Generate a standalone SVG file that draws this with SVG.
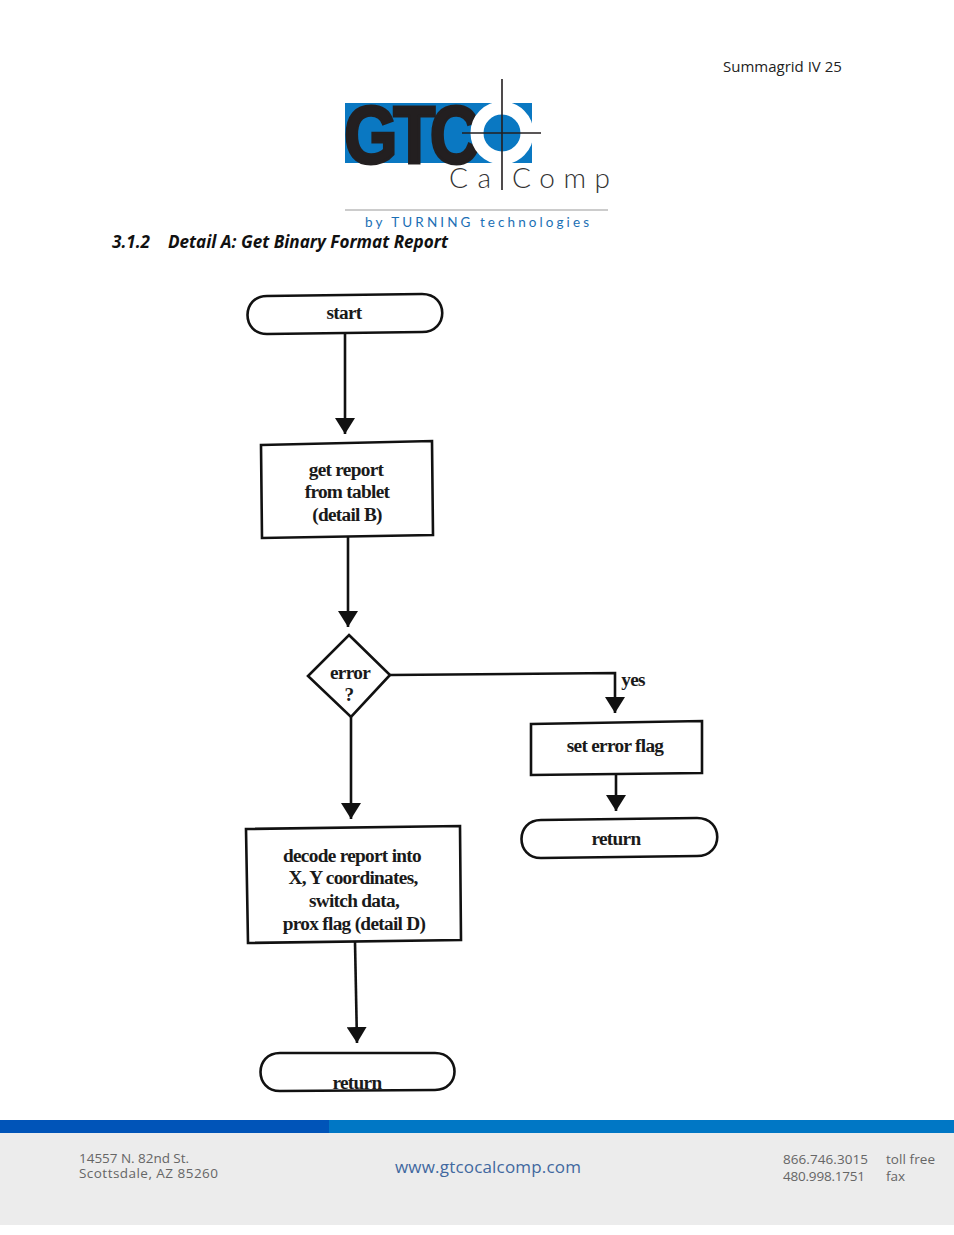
<svg xmlns="http://www.w3.org/2000/svg" width="954" height="1235" viewBox="0 0 954 1235">
<style>
.b{fill:#fff;stroke:#111;stroke-width:2.6}
.c{fill:none;stroke:#111;stroke-width:2.6}
.t{font-family:"Liberation Serif",serif;font-size:19.3px;font-weight:bold;fill:#1a1a1a;text-anchor:middle;letter-spacing:-.7px}
.f{font-family:"Open Sans","Noto Sans",sans-serif;fill:#666}
.l{font-family:Lato,"Liberation Sans",sans-serif}
</style>
<defs>
<marker id="a" markerUnits="userSpaceOnUse" markerWidth="20" markerHeight="20" refX="16" refY="10" orient="auto"><path d="M0 0L16 10L0 20Z" fill="#111"/></marker>
</defs>
<rect width="954" height="1235" fill="#fff"/>
<text x="723" y="72" font-family="'Open Sans','Noto Sans',sans-serif" font-size="15" fill="#222">Summagrid IV 25</text>
<g id="logo">
<rect x="345" y="103" width="187" height="60" fill="#0a78c2"/>
<text font-family="'Liberation Sans',sans-serif" transform="translate(344 162.500) scale(.85 1)" x="0 58 101" y="0" font-size="81" font-weight="bold" fill="#231f20" stroke="#231f20" stroke-width="3">GTC</text>
<circle cx="502" cy="133" r="25" fill="#0a78c2" stroke="#fff" stroke-width="13"/>
<path d="M502 79V190M462 133H541" stroke="#231f20" stroke-width="1.6" fill="none"/>
<text class="l" x="449" y="188" font-size="28" font-weight="300" fill="#333" textLength="42">Ca</text>
<text class="l" x="512" y="188" font-size="28" font-weight="300" fill="#333" textLength="98">Comp</text>
<path d="M345 210H608" stroke="#999" stroke-width="1.2"/>
<text class="l" x="365" y="227" font-size="13.5" fill="#1b6fb5" textLength="224">by TURNING technologies</text>
</g>
<text x="112" y="248" font-family="'Open Sans','Noto Sans',sans-serif" font-size="17.1" font-weight="bold" font-style="italic" fill="#111">3.1.2</text>
<text x="168" y="248" font-family="'Open Sans','Noto Sans',sans-serif" font-size="17.1" font-weight="bold" font-style="italic" fill="#111">Detail A: Get Binary Format Report</text>
<g id="connectors">
<path class="c" d="M345 334V434" marker-end="url(#a)"/>
<path class="c" d="M348 537V627" marker-end="url(#a)"/>
<path class="c" d="M351 717V819" marker-end="url(#a)"/>
<path class="c" d="M390 675L615 673V713" marker-end="url(#a)"/>
<path class="c" d="M616 775V811" marker-end="url(#a)"/>
<path class="c" d="M355 942L357 1043" marker-end="url(#a)"/>
</g>
<g id="start"><path class="b" d="M267 296L422 294C449 294 449 332 422 332L267 334C241 334 241 296 267 296Z"/><text class="t" x="344" y="319">start</text></g>
<g id="get-report"><path class="b" d="M261 445L432 441L433 535L262 538Z"/><text class="t" x="346" y="476">get report</text><text class="t" x="347" y="498">from tablet</text><text class="t" x="347" y="521">(detail B)</text></g>
<g id="error"><path class="b" d="M349 635L390 675L351 717L308 676Z"/><text class="t" x="350" y="679">error</text><text class="t" x="349" y="701">?</text></g>
<text id="yes-label" class="t" x="633" y="686">yes</text>
<g id="set-error"><path class="b" d="M531 724L702 721V773L531 775Z"/><text class="t" x="615" y="752">set error flag</text></g>
<g id="return-right"><path class="b" d="M541 820L697 818C724 818 724 856 697 856L541 858C515 858 515 820 541 820Z"/><text class="t" x="616" y="845">return</text></g>
<g id="decode"><path class="b" d="M246 829L460 826L461 940L248 943Z"/><text class="t" x="352" y="862">decode report into</text><text class="t" x="353" y="884">X, Y coordinates,</text><text class="t" x="354" y="907">switch data,</text><text class="t" x="354" y="930">prox flag (detail D)</text></g>
<g id="return-bottom"><path class="b" d="M280 1053L435 1053C461 1053 461 1090 435 1090L280 1091C254 1091 254 1053 280 1053Z"/><text class="t" x="357" y="1089">return</text></g>
<g id="footer">
<rect y="1133" width="954" height="92" fill="#ececec"/>
<rect y="1120" width="954" height="13" fill="#0077c5"/>
<rect y="1120" width="329" height="13" fill="#0054b8"/>
<text class="f" x="79" y="1163" font-size="13.5" textLength="110">14557 N. 82nd St.</text>
<text class="f" x="79" y="1178" font-size="13.5" textLength="139">Scottsdale, AZ 85260</text>
<text class="f" x="395" y="1173" font-size="17" style="fill:#41689f" textLength="186">www.gtcocalcomp.com</text>
<text class="f" x="783" y="1164" font-size="13.5" textLength="85">866.746.3015</text>
<text class="f" x="783" y="1181" font-size="13.5" textLength="82">480.998.1751</text>
<text class="f" x="886" y="1164" font-size="13.5" textLength="49">toll free</text>
<text class="f" x="886" y="1181" font-size="13.5">fax</text>
</g>
</svg>
